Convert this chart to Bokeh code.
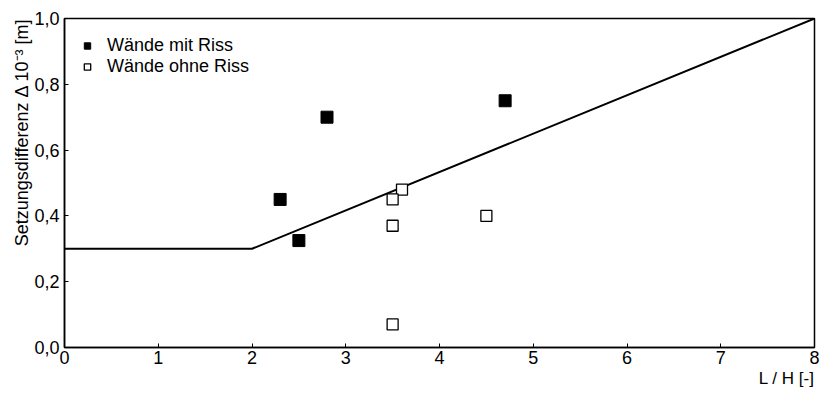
from bokeh.plotting import figure
from bokeh.models import Range1d, FixedTicker, CustomJSTickFormatter, Title, Legend, LegendItem
from bokeh.embed import file_html
from bokeh.resources import INLINE

# data
riss_x = [2.3, 2.8, 2.5, 4.7]
riss_y = [0.45, 0.70, 0.325, 0.75]
ohne_x = [3.6, 3.5, 3.5, 4.5, 3.5]
ohne_y = [0.48, 0.45, 0.37, 0.40, 0.07]
grenz_x = [0, 2, 8]
grenz_y = [0.30, 0.30, 1.00]
x_ticks = [0, 1, 2, 3, 4, 5, 6, 7, 8]
y_ticks = [0.0, 0.2, 0.4, 0.6, 0.8, 1.0]

FONT = "Liberation Sans"
FS = "18px"

p = figure(frame_width=750, frame_height=329, min_border_left=64, min_border_right=6,
           min_border_top=18, min_border_bottom=10,
           x_range=Range1d(0, 8), y_range=Range1d(0, 1.0),
           output_backend="svg", toolbar_location=None)

p.xgrid.visible = False
p.ygrid.visible = False
p.outline_line_color = "black"
p.outline_line_width = 1.5
p.background_fill_color = "white"
p.border_fill_color = "white"

for ax in (p.xaxis[0], p.yaxis[0]):
    ax.axis_line_width = 1.5
    ax.axis_line_color = "black"
    ax.major_tick_in = 4
    ax.major_tick_out = 0
    ax.minor_tick_line_color = None
    ax.major_label_text_font = FONT
    ax.major_label_text_font_size = FS
    ax.major_label_text_color = "black"

p.xaxis.ticker = FixedTicker(ticks=x_ticks)
p.yaxis.ticker = FixedTicker(ticks=y_ticks)
p.yaxis.formatter = CustomJSTickFormatter(code="return tick.toFixed(1).replace('.', ',');")
p.xaxis.major_label_standoff = 3
p.yaxis.major_label_standoff = 5

p.line(grenz_x, grenz_y, line_color="black", line_width=2)
r1 = p.scatter(riss_x, riss_y, marker="square", size=12, fill_color="black", line_color="black")
r2 = p.scatter(ohne_x, ohne_y, marker="square", size=11, fill_color="white", line_color="black", line_width=1.3)

legend = Legend(items=[LegendItem(label="Wände mit Riss", renderers=[r1]),
                       LegendItem(label="Wände ohne Riss", renderers=[r2])],
                location=(15, 270), padding=0, margin=0, spacing=0,
                glyph_width=16, glyph_height=21, label_height=21, label_standoff=12,
                border_line_color=None, background_fill_alpha=0,
                label_text_font=FONT, label_text_font_size=FS, label_text_color="black")
p.add_layout(legend, "center")

p.add_layout(Title(text="L / H [-]", align="right", text_font=FONT, text_font_size="17px",
                   text_font_style="normal", text_color="black", standoff=0, offset=0), "below")
p.add_layout(Title(text="Setzungsdifferenz \u0394 10\u207b\u00b3 [m]", align="right",
                   text_font=FONT, text_font_size=FS, text_font_style="normal",
                   text_color="black", standoff=0, offset=0), "left")

open("out.html", "w").write(file_html(p, INLINE))
